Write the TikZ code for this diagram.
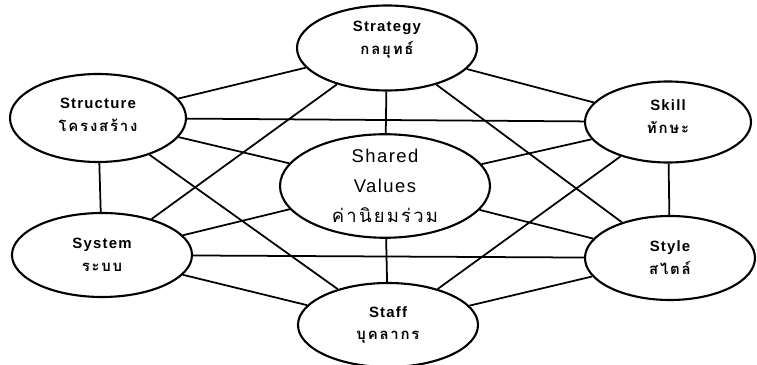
\documentclass[tikz,border=0pt]{standalone}
\usepackage{fontspec}
\setmainfont{Liberation Sans}[LetterSpace=8]
\newfontfamily\thaifont[Script=Thai,LetterSpace=12]{Loma}
\usetikzlibrary{positioning,shapes.geometric}
\tikzset{
  snode/.style={draw, ellipse, line width=1.2pt, fill=white, inner sep=0pt, align=center, font=\fontsize{8.5}{13}\selectfont\bfseries},
  sharednode/.style={snode, font=\fontsize{10.5}{17}\selectfont},
  linkline/.style={line width=1pt}
}

\begin{document}
\begin{tikzpicture}
      \useasboundingbox (0,0) rectangle (15.14,7.3);
      \node[snode, minimum width=3.6cm, minimum height=1.7cm] (strat) at (7.74,6.34) {Strategy\\{\thaifont กลยุทธ์}\\[-1pt]};
      \node[snode, minimum width=3.52cm, minimum height=1.76cm] (struc) at (1.96,4.94) {Structure\\{\thaifont โครงสร้าง}\\[-9.5pt]};
      \node[snode, minimum width=3.32cm, minimum height=1.62cm] (skill) at (13.36,4.86) {Skill\\{\thaifont ทักษะ}\\[-7pt]};
      \node[sharednode, minimum width=4.2cm, minimum height=2.04cm] (shared) at (7.70,3.58) {Shared\\Values\\{\thaifont ค่านิยมร่วม}};
      \node[snode, minimum width=3.6cm, minimum height=1.68cm] (syst) at (2.04,2.20) {System\\{\thaifont ระบบ}};
      \node[snode, minimum width=3.4cm, minimum height=1.68cm] (styl) at (13.40,2.14) {Style\\{\thaifont สไตล์}};
      \node[snode, minimum width=3.6cm, minimum height=1.68cm] (staff) at (7.76,0.80) {Staff\\{\thaifont บุคลากร}};
      \draw[linkline] (strat) -- (struc);
      \draw[linkline] (strat) -- (skill);
      \draw[linkline] (skill) -- (styl);
      \draw[linkline] (styl) -- (staff);
      \draw[linkline] (staff) -- (syst);
      \draw[linkline] (syst) -- (struc);
      \draw[linkline] (strat) -- (shared);
      \draw[linkline] (struc) -- (shared);
      \draw[linkline] (skill) -- (shared);
      \draw[linkline] (syst) -- (shared);
      \draw[linkline] (styl) -- (shared);
      \draw[linkline] (staff) -- (shared);
      \draw[linkline] (strat) -- (syst);
      \draw[linkline] (strat) -- (styl);
      \draw[linkline] (struc) -- (skill);
      \draw[linkline] (struc) -- (staff);
      \draw[linkline] (syst) -- (styl);
      \draw[linkline] (skill) -- (staff);
    \end{tikzpicture}
\end{document}
